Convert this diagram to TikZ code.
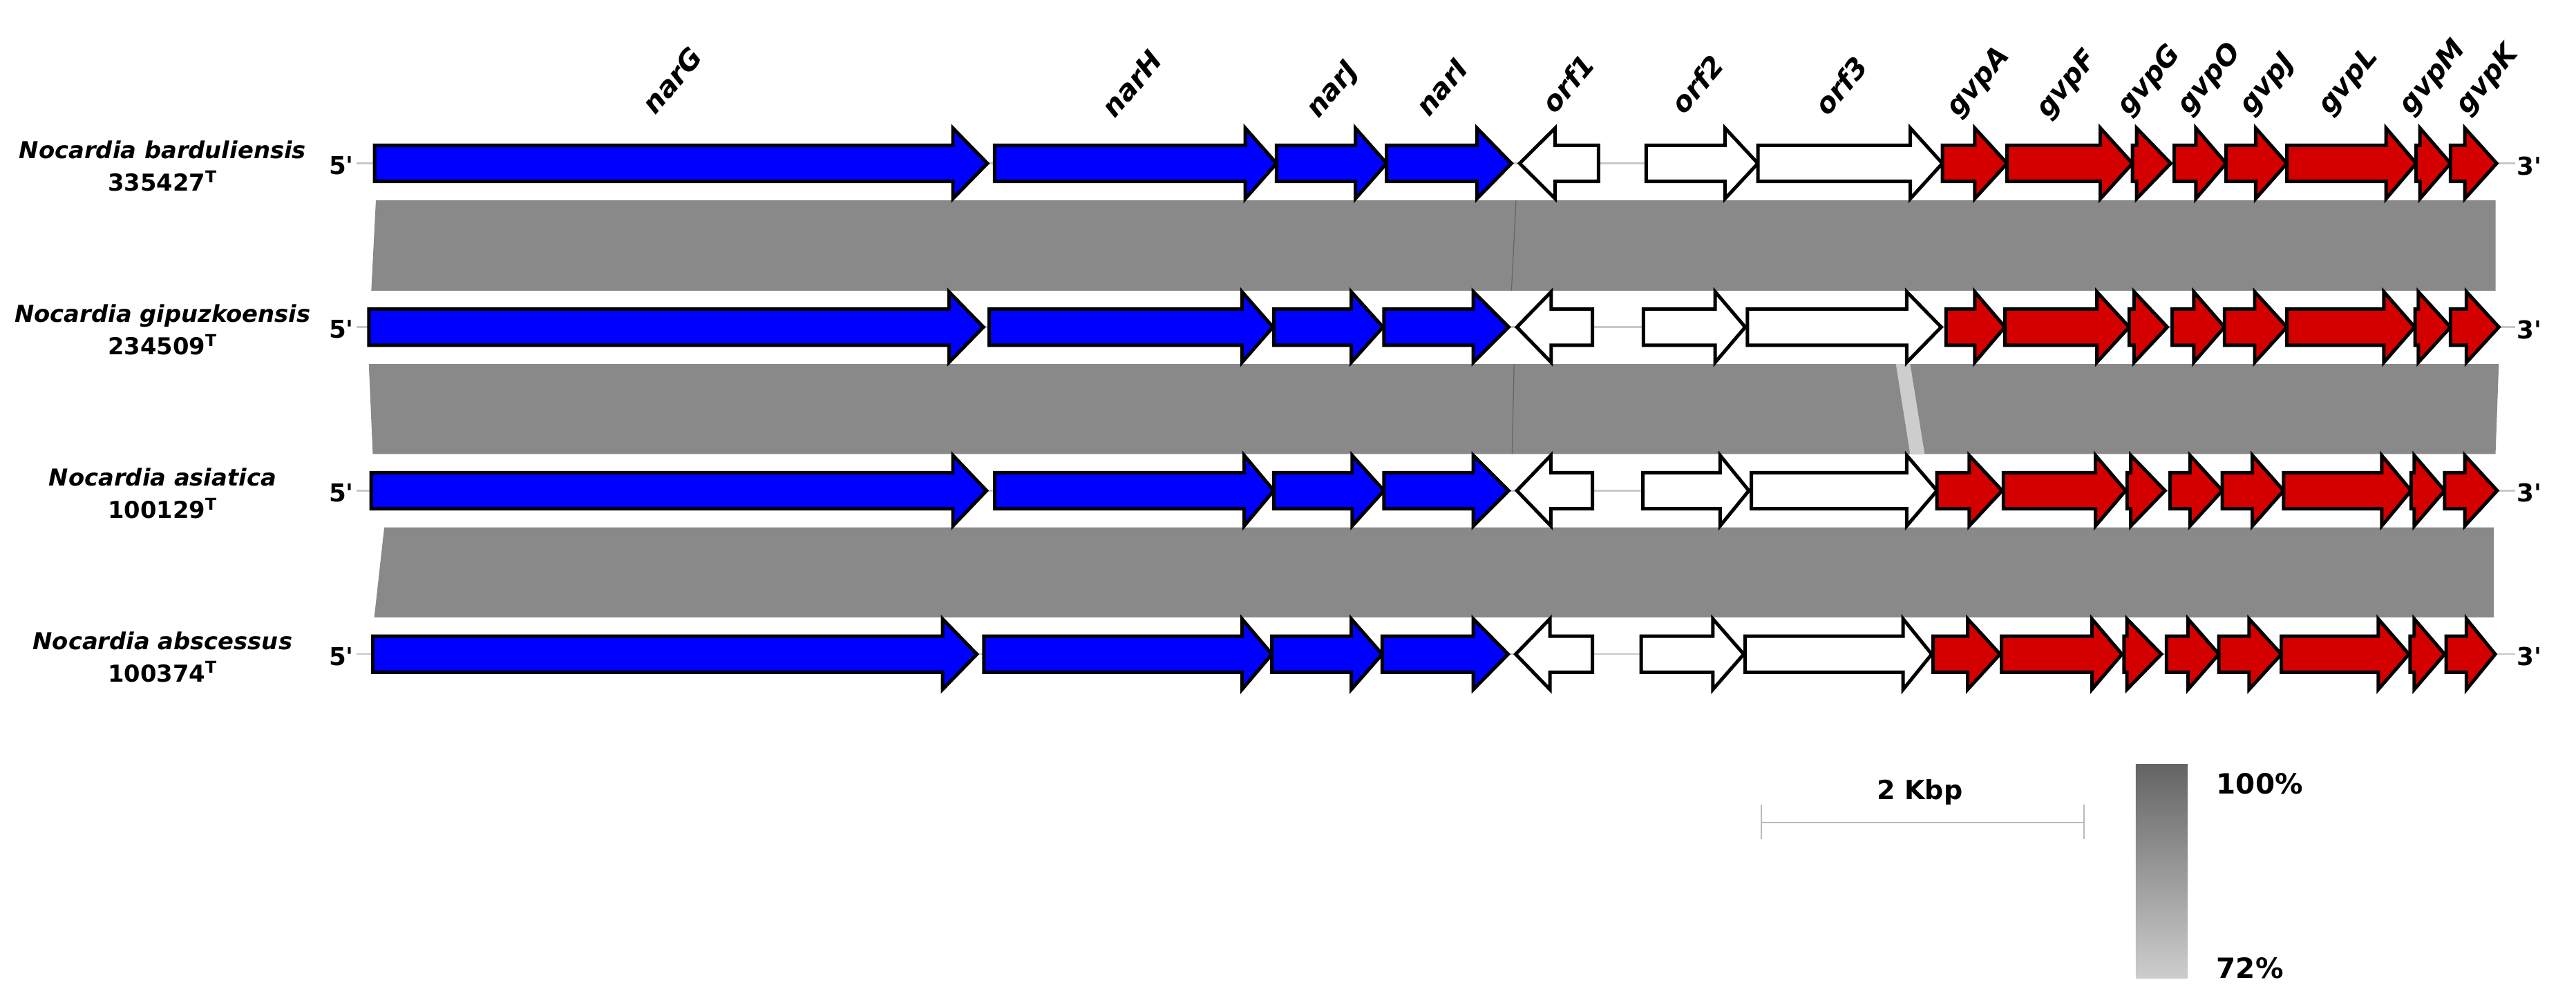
\documentclass[tikz,border=0pt]{standalone}
\usepackage{fontspec}
\setmainfont{DejaVu Sans}
\newfontfamily\plainfont{DejaVu Sans}
\definecolor{genblue}{RGB}{0,0,255}
\definecolor{genred}{RGB}{212,0,0}
\definecolor{bandgray}{RGB}{137,137,137}
\definecolor{bandlight}{RGB}{205,205,205}
\definecolor{bbgray}{RGB}{200,200,200}
\definecolor{divgray}{RGB}{100,100,100}
\definecolor{scalegray}{RGB}{185,185,185}
\definecolor{shadetop}{RGB}{100,100,100}
\definecolor{shadebot}{RGB}{205,205,205}
\newcommand{\fwdgene}[5]{\draw[gene, fill=#5] (#1,#4-11) -- (#2,#4-11) -- (#2,#4-21.5) -- (#3,#4) -- (#2,#4+21.5) -- (#2,#4+11) -- (#1,#4+11) -- cycle;}
\newcommand{\revgene}[5]{\draw[gene, fill=#5] (#3,#4-11) -- (#2,#4-11) -- (#2,#4-21.5) -- (#1,#4) -- (#2,#4+21.5) -- (#2,#4+11) -- (#3,#4+11) -- cycle;}
\tikzset{
  gene/.style={draw=black, line width=2.1pt, line join=miter},
  backbone/.style={draw=bbgray, line width=1pt},
  band/.style={fill=bandgray, draw=none},
  divline/.style={draw=divgray, line width=0.5pt},
  glabel/.style={font=\fontsize{17}{17}\selectfont\bfseries\itshape, rotate=50, anchor=base west, inner sep=0pt},
  gdlabel/.style={glabel, anchor=south west},
  splabel/.style={font=\fontsize{14.2}{16}\selectfont\bfseries\itshape, anchor=base, inner sep=0pt},
  spnum/.style={font=\fontsize{14.2}{16}\selectfont\bfseries, anchor=base, inner sep=0pt},
  endlab/.style={font=\plainfont\fontsize{15}{15}\selectfont\bfseries, inner sep=0pt},
  legtext/.style={font=\fontsize{17}{17}\selectfont\bfseries, inner sep=0pt},
}
\begin{document}
\begin{tikzpicture}[x=1pt,y=-1pt]
\useasboundingbox (0,0) rectangle (1568,602);

% similarity bands
\fill[band] (228.8,122) -- (1519,122) -- (1519,177) -- (226,177) -- cycle;
\draw[divline] (922.8,122) -- (920,177);
\fill[band] (224.5,221.7) -- (1521,221.7) -- (1519,276.5) -- (226.9,276.5) -- cycle;
\fill[bandlight] (1154,221.7) -- (1162.7,221.7) -- (1171.5,276.5) -- (1162.7,276.5) -- cycle;
\draw[divline] (921.6,221.7) -- (920.4,276.5);
\fill[band] (233.9,321.2) -- (1518,321.2) -- (1518,376) -- (227.8,376) -- cycle;

% backbones
\draw[backbone] (217,99.5) -- (1531,99.5);
\draw[backbone] (217,199.2) -- (1531,199.2);
\draw[backbone] (217,298.8) -- (1531,298.8);
\draw[backbone] (217,398.4) -- (1531,398.4);

% row 1
\fwdgene{228}{580}{601}{99.5}{genblue}
\fwdgene{605.4}{758}{777}{99.5}{genblue}
\fwdgene{777}{825}{844}{99.5}{genblue}
\fwdgene{844}{899}{920}{99.5}{genblue}
\revgene{925}{946.6}{973}{99.5}{white}
\fwdgene{1002}{1050}{1070}{99.5}{white}
\fwdgene{1070}{1162.8}{1182.3}{99.5}{white}
\fwdgene{1182.3}{1202}{1221.7}{99.5}{genred}
\fwdgene{1221.7}{1278.5}{1298}{99.5}{genred}
\fwdgene{1298}{1300.5}{1321.3}{99.5}{genred}
\fwdgene{1323.5}{1336.6}{1355}{99.5}{genred}
\fwdgene{1355}{1373}{1392}{99.5}{genred}
\fwdgene{1392}{1452.4}{1470.7}{99.5}{genred}
\fwdgene{1470.7}{1473}{1491.6}{99.5}{genred}
\fwdgene{1491.6}{1500.3}{1519.7}{99.5}{genred}

% row 2
\fwdgene{224.5}{577.6}{598.6}{199.2}{genblue}
\fwdgene{602.1}{756}{774.8}{199.2}{genblue}
\fwdgene{775.3}{822.5}{841.8}{199.2}{genblue}
\fwdgene{842.4}{896.8}{918.3}{199.2}{genblue}
\revgene{923.3}{944.2}{969.3}{199.2}{white}
\fwdgene{1000.3}{1044}{1062.3}{199.2}{white}
\fwdgene{1063.6}{1160.6}{1181.6}{199.2}{white}
\fwdgene{1184.6}{1202}{1220.4}{199.2}{genred}
\fwdgene{1220.4}{1276.3}{1296}{199.2}{genred}
\fwdgene{1296}{1299}{1319.2}{199.2}{genred}
\fwdgene{1322.2}{1335.3}{1354}{199.2}{genred}
\fwdgene{1354}{1372.4}{1392}{199.2}{genred}
\fwdgene{1392}{1451}{1469.8}{199.2}{genred}
\fwdgene{1470}{1472}{1491.6}{199.2}{genred}
\fwdgene{1491.6}{1501.3}{1521}{199.2}{genred}

% row 3
\fwdgene{225.9}{580}{600.5}{298.8}{genblue}
\fwdgene{605.5}{757.3}{775.3}{298.8}{genblue}
\fwdgene{775.3}{823}{842.4}{298.8}{genblue}
\fwdgene{842.4}{896.8}{918.3}{298.8}{genblue}
\revgene{923.3}{944}{969.3}{298.8}{white}
\fwdgene{1000}{1047}{1064.5}{298.8}{white}
\fwdgene{1066}{1160.6}{1179}{298.8}{white}
\fwdgene{1179}{1198.6}{1218.7}{298.8}{genred}
\fwdgene{1219.5}{1275.5}{1293.8}{298.8}{genred}
\fwdgene{1294.7}{1297}{1317.8}{298.8}{genred}
\fwdgene{1320.9}{1333}{1352.7}{298.8}{genred}
\fwdgene{1352.7}{1371}{1390}{298.8}{genred}
\fwdgene{1390}{1449.7}{1467.6}{298.8}{genred}
\fwdgene{1467.6}{1469.5}{1488}{298.8}{genred}
\fwdgene{1488}{1500.3}{1520}{298.8}{genred}

% row 4
\fwdgene{226.9}{573.7}{594.6}{398.4}{genblue}
\fwdgene{598.9}{756}{774.2}{398.4}{genblue}
\fwdgene{774.2}{822.5}{841.3}{398.4}{genblue}
\fwdgene{841.3}{896.8}{918}{398.4}{genblue}
\revgene{922.6}{943.4}{969.3}{398.4}{white}
\fwdgene{999}{1042.6}{1061.4}{398.4}{white}
\fwdgene{1062.3}{1158.4}{1175.8}{398.4}{white}
\fwdgene{1176.7}{1197.7}{1217.4}{398.4}{genred}
\fwdgene{1218.3}{1273.3}{1291.6}{398.4}{genred}
\fwdgene{1292.9}{1294.6}{1315.6}{398.4}{genred}
\fwdgene{1318.7}{1331.8}{1350.6}{398.4}{genred}
\fwdgene{1350.6}{1369}{1388.6}{398.4}{genred}
\fwdgene{1388.6}{1447.6}{1466.3}{398.4}{genred}
\fwdgene{1467}{1469.5}{1488}{398.4}{genred}
\fwdgene{1489}{1501.3}{1518.8}{398.4}{genred}

% gene labels
\node[glabel] (lnarG) at (398.9,70.8) {narG};
\node[glabel] (lnarH) at (678.7,72.9) {narH};
\node[glabel] (lnarJ) at (802.5,72.9) {narJ};
\node[glabel] (lnarI) at (869.8,71.8) {narI};
\node[glabel] (lorf1) at (946.6,70.1) {orf1};
\node[glabel] (lorf2) at (1025.2,70.8) {orf2};
\node[glabel] (lorf3) at (1112.5,71.5) {orf3};
\node[gdlabel] (lgvpA) at (1195.2,74.3) {gvpA};
\node[gdlabel] (lgvpF) at (1249.6,75) {gvpF};
\node[gdlabel] (lgvpG) at (1299,73.6) {gvpG};
\node[gdlabel] (lgvpO) at (1335.4,72.9) {gvpO};
\node[gdlabel] (lgvpJ) at (1373.2,72.9) {gvpJ};
\node[gdlabel] (lgvpL) at (1421.2,73) {gvpL};
\node[gdlabel] (lgvpM) at (1470.6,72.9) {gvpM};
\node[gdlabel] (lgvpK) at (1505,72.9) {gvpK};

% species labels
\node[splabel] (sp1a) at (99,96.7) {Nocardia barduliensis};
\node[spnum] (sp1b) at (99,116.4) {335427\textsuperscript{T}};
\node[splabel] (sp2a) at (99,196.4) {Nocardia gipuzkoensis};
\node[spnum] (sp2b) at (99,216.1) {234509\textsuperscript{T}};
\node[splabel] (sp3a) at (99,296) {Nocardia asiatica};
\node[spnum] (sp3b) at (99,315.7) {100129\textsuperscript{T}};
\node[splabel] (sp4a) at (99,395.6) {Nocardia abscessus};
\node[spnum] (sp4b) at (99,415.3) {100374\textsuperscript{T}};

% 5' and 3' labels
\node[endlab, anchor=east] (f1) at (215.5,101) {5'};
\node[endlab, anchor=east] (f2) at (215.5,200.7) {5'};
\node[endlab, anchor=east] (f3) at (215.5,300.3) {5'};
\node[endlab, anchor=east] (f4) at (215.5,399.9) {5'};
\node[endlab, anchor=west] (t1) at (1532,101) {3'};
\node[endlab, anchor=west] (t2) at (1532,200.7) {3'};
\node[endlab, anchor=west] (t3) at (1532,300.3) {3'};
\node[endlab, anchor=west] (t4) at (1532,399.9) {3'};

% scale bar
\coordinate (sbl) at (1072,500.8);
\coordinate (sbr) at (1268.5,500.8);
\draw[draw=scalegray, line width=1pt] (sbl) -- (sbr);
\draw[draw=scalegray, line width=0.8pt] (1072,490) -- (1072,511);
\draw[draw=scalegray, line width=0.8pt] (1268.5,490) -- (1268.5,511);
\node[legtext, font=\fontsize{16}{16}\selectfont\bfseries] (kbp) at (1168.6,482.3) {2 Kbp};

% identity gradient
\shade[top color=shadetop, bottom color=shadebot] (1300,465.5) rectangle (1331.5,595.8);
\node[legtext, anchor=west] (p100) at (1349,477.4) {100\%};
\node[legtext, anchor=west] (p72) at (1349,589.5) {72\%};
\end{tikzpicture}
\end{document}
